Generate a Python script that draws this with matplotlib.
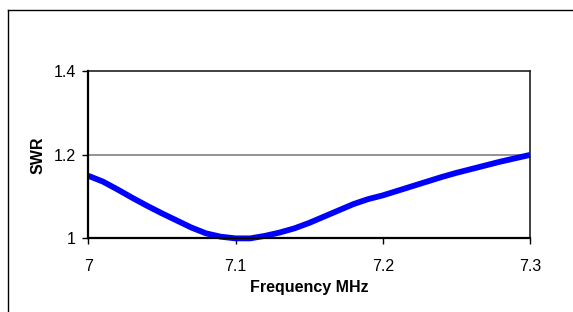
import matplotlib
matplotlib.use('Agg')
import matplotlib.pyplot as plt
from matplotlib.lines import Line2D

plt.rcParams['font.family'] = ['Liberation Sans', 'DejaVu Sans']

freq = [7.00, 7.01, 7.02, 7.03, 7.04, 7.05, 7.06, 7.07, 7.08, 7.09, 7.10,
        7.11, 7.12, 7.13, 7.14, 7.15, 7.16, 7.17, 7.18, 7.19, 7.20,
        7.21, 7.22, 7.23, 7.24, 7.25, 7.26, 7.27, 7.28, 7.29, 7.30]
swr = [1.150, 1.136, 1.117, 1.097, 1.078, 1.060, 1.043, 1.026, 1.012, 1.004, 1.000,
       1.000, 1.006, 1.014, 1.024, 1.037, 1.052, 1.067, 1.082, 1.094, 1.103,
       1.114, 1.125, 1.136, 1.147, 1.157, 1.166, 1.175, 1.184, 1.192, 1.200]

x_ticks = [7.0, 7.1, 7.2, 7.3]
x_labels = ['7', '7.1', '7.2', '7.3']
y_ticks = [1.0, 1.2, 1.4]
y_labels = ['1', '1.2', '1.4']

fig = plt.figure(figsize=(5.73, 3.12), dpi=100)
ax = fig.add_axes([0.154, 0.236, 0.771, 0.535])

# outer chart border (extends past the right/bottom edge of the picture)
fig.add_artist(Line2D([8 / 573, 8 / 573], [0, 1 - 10 / 312], transform=fig.transFigure,
                      color='black', lw=1))
fig.add_artist(Line2D([8 / 573, 1], [1 - 10 / 312, 1 - 10 / 312], transform=fig.transFigure,
                      color='black', lw=1))

ax.axhline(1.2, color='#808080', lw=1.2, zorder=1)
ax.plot(freq, swr, color='#0000FF', lw=4.2, solid_capstyle='butt', zorder=2, clip_on=False)

ax.set_xlim(7.0, 7.3)
ax.set_ylim(1.0, 1.4)
ax.set_xticks(x_ticks)
ax.set_xticklabels(x_labels)
ax.set_yticks(y_ticks)
ax.set_yticklabels(y_labels)
ax.tick_params(axis='x', direction='out', length=4, width=1, pad=10.5, labelsize=11.5)
ax.tick_params(axis='y', direction='out', length=4, width=1, pad=5, labelsize=11.5)

for side in ['left', 'bottom']:
    ax.spines[side].set_linewidth(1.6)
    ax.spines[side].set_color('black')
    ax.spines[side].set_zorder(3)
for side in ['top', 'right']:
    ax.spines[side].set_linewidth(1.2)
    ax.spines[side].set_color('#202020')

ax.set_xlabel('Frequency MHz', fontsize=11.5, fontweight='bold', labelpad=5)
ax.set_ylabel('SWR', fontsize=11.5, fontweight='bold', labelpad=6)

fig.savefig('out.png', dpi=100)
